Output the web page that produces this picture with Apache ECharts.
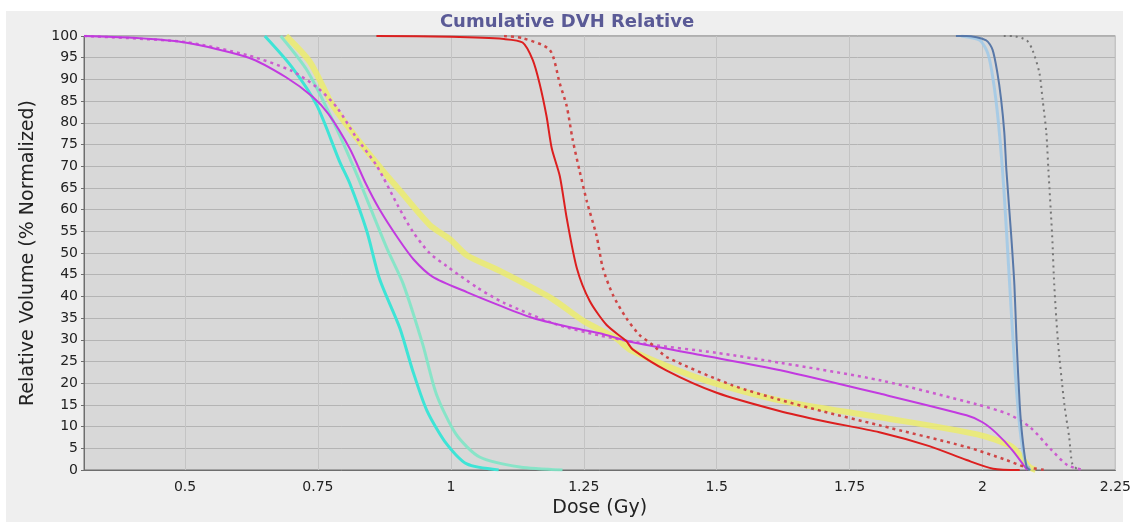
<!DOCTYPE html>
<html lang="en">
<head>
    <meta charset="UTF-8">
    <title>Cumulative DVH Relative</title>
    <script src="https://cdn.jsdelivr.net/npm/echarts@6/dist/echarts.min.js"></script>
    <style>
        html, body {
            margin: 0;
            padding: 0;
            background: #ffffff;
        }

        #wrap {
            position: relative;
            width: 1134px;
            height: 523px;
        }

        #panel {
            position: absolute;
            left: 6px;
            top: 11px;
            width: 1117px;
            height: 511px;
            background: #efefef;
        }

        #main {
            position: absolute;
            left: 0;
            top: 0;
            width: 1134px;
            height: 523px;
        }
    </style>
</head>
<body>
<div id="wrap">
    <div id="panel"></div>
    <div id="main"></div>
</div>
<script>
    // dose (Gy), relative volume (%)
    var doseTicks = [0.5, 0.75, 1, 1.25, 1.5, 1.75, 2, 2.25];

    var yellowBand = [[0.69, 100], [0.735, 94], [0.778, 84], [0.829, 75.5], [0.872, 69], [0.9, 65], [0.96, 56.5],
        [1.0, 53], [1.03, 49.5], [1.09, 46], [1.19, 39.5], [1.25, 34.3], [1.31, 30.4], [1.34, 27.5], [1.47, 21],
        [1.62, 16], [1.81, 12.1], [1.99, 8.2], [2.056, 5.3], [2.088, 0.7], [2.1, 0]];
    var cyanLight = [[0.68, 100], [0.73, 92], [0.78, 80], [0.82, 69], [0.85, 60], [0.88, 51], [0.91, 43],
        [0.947, 29], [0.973, 17.4], [1.01, 8.2], [1.054, 3], [1.13, 0.7], [1.21, 0]];
    var cyanSolid = [[0.65, 100], [0.7, 93], [0.748, 84], [0.791, 71], [0.81, 66], [0.842, 55], [0.866, 44],
        [0.904, 32.7], [0.928, 23], [0.955, 13.7], [0.992, 6], [1.03, 1.4], [1.09, 0]];
    var magentaDotted = [[0.31, 100], [0.5, 98.6], [0.62, 95.5], [0.7, 92], [0.75, 88], [0.786, 83.5], [0.82, 77],
        [0.861, 70], [0.9, 61], [0.928, 55], [0.96, 50], [0.992, 47], [1.05, 42], [1.1, 38.5], [1.2, 33.5],
        [1.28, 31], [1.37, 29], [1.5, 27], [1.62, 24.7], [1.81, 20.6], [1.99, 15.1], [2.05, 12.8], [2.09, 9.8],
        [2.13, 4.6], [2.16, 1.1], [2.19, 0]];
    var magentaSolid = [[0.31, 100], [0.4, 99.6], [0.5, 98.5], [0.62, 95], [0.69, 90.5], [0.74, 86], [0.77, 82],
        [0.81, 74], [0.84, 66], [0.866, 60], [0.9, 53.5], [0.93, 48.5], [0.966, 44.5], [1.03, 41], [1.09, 38],
        [1.15, 35.2], [1.22, 33], [1.28, 31.5], [1.34, 29.5], [1.47, 26.5], [1.62, 23], [1.81, 17.5],
        [1.97, 12.6], [2.0, 11], [2.026, 8.5], [2.056, 4.6], [2.084, 0]];
    var redDotted = [[1.1, 100], [1.135, 99.5], [1.186, 96.8], [1.205, 89], [1.218, 83.8], [1.229, 76.2],
        [1.242, 69], [1.256, 61.8], [1.274, 54], [1.286, 46.5], [1.305, 40.3], [1.33, 35], [1.355, 31.1],
        [1.38, 28.8], [1.406, 26], [1.53, 19.5], [1.618, 16.2], [1.7, 13.5], [1.806, 10.3], [1.97, 5.3],
        [2.045, 2.3], [2.08, 0.7], [2.12, 0]];
    var redSolid = [[0.86, 100], [1.0, 99.8], [1.1, 99.3], [1.135, 98.5], [1.154, 94.5], [1.167, 89], [1.18, 81.5],
        [1.19, 74], [1.205, 67.7], [1.218, 58], [1.237, 46.5], [1.261, 39], [1.293, 33.4], [1.33, 29.7],
        [1.342, 27.8], [1.406, 22.9], [1.5, 17.8], [1.618, 13.6], [1.7, 11.3], [1.806, 8.7], [1.9, 5.5],
        [1.97, 2.3], [2.02, 0.3], [2.07, 0]];
    var greyDotted = [[2.04, 100], [2.056, 100], [2.083, 99], [2.094, 96.8], [2.107, 91.5], [2.113, 85.4],
        [2.12, 77.8], [2.124, 69], [2.131, 54], [2.135, 42.6], [2.142, 29.5], [2.154, 15.1], [2.163, 7.6],
        [2.169, 1.4], [2.18, 0]];
    var lightBlue = [[1.96, 100], [1.995, 99], [2.01, 96], [2.02, 90], [2.03, 80], [2.04, 65], [2.05, 45],
        [2.06, 25], [2.07, 10], [2.08, 2], [2.09, 0]];
    var steelBlue = [[1.95, 100], [1.97, 100], [2.007, 99], [2.019, 96.8], [2.028, 91.5], [2.035, 85.4],
        [2.041, 77.8], [2.045, 69], [2.054, 54], [2.06, 42.6], [2.064, 30], [2.07, 15.1], [2.075, 7.6],
        [2.083, 0.7], [2.09, 0]];

    function curve(name, data, color, width, dash, opacity) {
        return {
            name: name,
            type: 'line',
            data: data,
            smooth: 0.25,
            symbol: 'none',
            silent: true,
            lineStyle: {
                color: color,
                width: width,
                type: dash || 'solid',
                opacity: opacity == null ? 1 : opacity
            }
        };
    }

    var myChart = echarts.init(document.getElementById('main'));
    var option = {
        animation: false,
        textStyle: {fontFamily: 'DejaVu Sans'},
        title: {
            text: 'Cumulative DVH Relative',
            left: 'center',
            top: 13,
            padding: 0,
            textStyle: {
                fontFamily: 'DejaVu Sans',
                fontWeight: 'bold',
                fontSize: 18,
                color: '#5a5a96'
            }
        },
        grid: {
            left: 84,
            right: 16,
            top: 36,
            bottom: 50,
            show: true,
            backgroundColor: '#d8d8d8',
            borderColor: '#6e6e6e',
            borderWidth: 1
        },
        xAxis: {
            type: 'value',
            min: 0.31,
            max: 2.25,
            name: 'Dose (Gy)',
            nameLocation: 'middle',
            nameGap: 29,
            nameTextStyle: {fontSize: 19, color: '#222'},
            axisLine: {lineStyle: {color: '#6e6e6e'}},
            axisTick: {show: false, customValues: doseTicks},
            axisLabel: {customValues: doseTicks, margin: 10, fontSize: 14, color: '#222'},
            splitLine: {show: true, lineStyle: {color: '#c4c4c4', width: 1}}
        },
        yAxis: {
            type: 'value',
            min: 0,
            max: 100,
            interval: 5,
            name: 'Relative Volume (% Normalized)',
            nameLocation: 'middle',
            nameGap: 46,
            nameTextStyle: {fontSize: 19, color: '#222'},
            axisLine: {show: true, lineStyle: {color: '#6e6e6e'}},
            axisTick: {show: true, length: 3, lineStyle: {color: '#6e6e6e'}},
            axisLabel: {margin: 6, fontSize: 14, color: '#222'},
            splitLine: {show: true, lineStyle: {color: '#b4b4b4', width: 1}}
        },
        series: [
            curve('Yellow', yellowBand, '#eeee66', 6, 'solid', 0.8),
            curve('Cyan 2', cyanLight, '#7fe6c6', 3, 'solid', 0.9),
            curve('Cyan 1', cyanSolid, '#3ee4d6', 3),
            curve('Magenta 2', magentaDotted, '#cc5ccf', 2.5, [3, 4]),
            curve('Magenta 1', magentaSolid, '#c23ae0', 2),
            curve('Red 2', redDotted, '#cf4646', 2.5, [3, 4]),
            curve('Red 1', redSolid, '#dc1f1f', 2),
            curve('Grey 2', greyDotted, '#767676', 2, [2, 4]),
            curve('Blue 2', lightBlue, '#9cc8e8', 3, 'solid', 0.8),
            curve('Blue 1', steelBlue, '#5878a8', 2)
        ]
    };
    myChart.setOption(option);
</script>
</body>
</html>
